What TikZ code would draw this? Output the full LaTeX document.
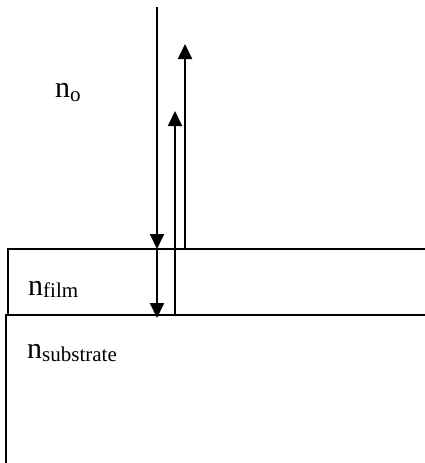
\documentclass[tikz,border=0pt]{standalone}
\usepackage{fontspec}
\setmainfont{Liberation Serif}
\usetikzlibrary{arrows.meta}
\begin{document}
\begin{tikzpicture}[x=1pt,y=-1pt,
  ray/.style={line width=2pt},
  rayarrow/.style={ray,-{Triangle[length=15pt,width=14pt]}},
  layer/.style={line width=2pt},
  lbl/.style={anchor=base west,inner sep=0pt,font=\fontsize{30}{30}\selectfont}]
\useasboundingbox (0,0) rectangle (425,463);
% interfaces
\coordinate (f1) at (8,249);
\coordinate (f2) at (425,249);
\coordinate (s0) at (8,315);
\coordinate (s1) at (6,315);
\coordinate (s2) at (425,315);
\coordinate (s3) at (6,463);
\draw[layer] (s0) -- (f1) -- (f2);
\draw[layer] (s3) -- (s1) -- (s2);
% rays
\coordinate (inTop) at (157,7);
\coordinate (inMid) at (157,249);
\coordinate (inBot) at (157,318);
\coordinate (r1Bot) at (175,315);
\coordinate (r1Top) at (175,111);
\coordinate (r2Bot) at (185,249);
\coordinate (r2Top) at (185,44);
\draw[rayarrow] (inTop) -- (inMid);
\draw[rayarrow] (inMid) -- (inBot);
\draw[rayarrow] (r1Bot) -- (r1Top);
\draw[rayarrow] (r2Bot) -- (r2Top);
% labels
\node[lbl] (no) at (55,97) {n\raisebox{-4pt}{\fontsize{21}{21}\selectfont o}};
\node[lbl] (nf) at (28,295) {n\raisebox{-2pt}{\fontsize{21}{21}\selectfont film}};
\node[lbl] (ns) at (27,358) {n\raisebox{-3pt}{\fontsize{21}{21}\selectfont substrate}};
\end{tikzpicture}
\end{document}
